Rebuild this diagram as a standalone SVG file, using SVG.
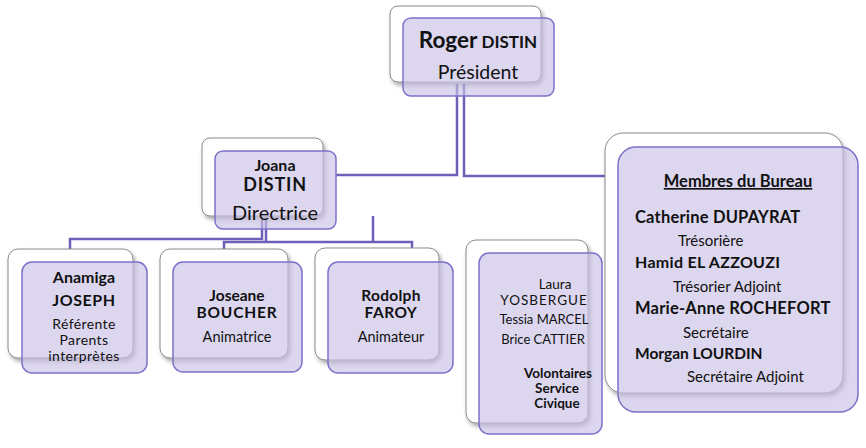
<svg xmlns="http://www.w3.org/2000/svg" width="866" height="448" viewBox="0 0 866 448">
<defs>
<filter id="sh" x="-10%" y="-10%" width="130%" height="130%">
<feDropShadow dx="2" dy="3" stdDeviation="2" flood-color="#000" flood-opacity="0.35"/>
</filter>
<style>
.back{fill:#ffffff;stroke:#8a8a8a;stroke-width:1;filter:url(#sh)}
.front{fill:#c9c2e6;fill-opacity:0.65;stroke:#7f70c8;stroke-width:1.5}
.conn{fill:none;stroke:#6f5fb8;stroke-width:2.5}
text{font-family:Lato,"Open Sans","Liberation Sans",sans-serif;fill:#111;text-anchor:middle}
.b{font-weight:bold}
.l{text-anchor:start}
</style>
</defs>
<rect width="866" height="448" fill="#ffffff"/>
<g id="connectors">
<path class="conn" d="M457,84 V175 H336"/>
<path class="conn" d="M464,84 V176 H605"/>
<path class="conn" d="M262,220 V239 H70 V249"/>
<path class="conn" d="M266,220 V242 H224 V249 M266,242 H412 V249"/>
<path class="conn" d="M373,216 V242"/>
</g>
<g id="node-roger">
<rect class="back" x="390" y="6" width="151" height="76" rx="8"/>
<rect class="front" x="403" y="18" width="151" height="78" rx="8"/>
<text x="478" y="48"><tspan class="b" font-size="22.5">Roger</tspan><tspan class="b" font-size="17"> DISTIN</tspan></text>
<text x="478" y="79" font-size="19.5">Président</text>
</g>
<g id="node-joana">
<rect class="back" x="202" y="138" width="121" height="78" rx="8"/>
<rect class="front" x="215" y="151" width="121" height="78" rx="8"/>
<text class="b" x="275" y="171" font-size="16">Joana</text>
<text class="b" x="275" y="191" font-size="18" letter-spacing="0.8">DISTIN</text>
<text x="275" y="220" font-size="20">Directrice</text>
</g>
<g id="node-anamiga">
<rect class="back" x="8" y="249" width="125" height="109" rx="10"/>
<rect class="front" x="22" y="262" width="125" height="111" rx="10"/>
<text class="b" x="84" y="283" font-size="16">Anamiga</text>
<text class="b" x="84" y="306" font-size="16" letter-spacing="0.6">JOSEPH</text>
<text x="84" y="329" font-size="14" letter-spacing="0.4">Référente</text>
<text x="84" y="345" font-size="14" letter-spacing="0.4">Parents</text>
<text x="84" y="361" font-size="14" letter-spacing="0.4">interprètes</text>
</g>
<g id="node-joseane">
<rect class="back" x="160" y="249" width="128" height="109" rx="10"/>
<rect class="front" x="173" y="262" width="129" height="110" rx="10"/>
<text class="b" x="237" y="301" font-size="15.5">Joseane</text>
<text class="b" x="237" y="318" font-size="15.5" letter-spacing="0.8">BOUCHER</text>
<text x="237" y="342" font-size="14.5">Animatrice</text>
</g>
<g id="node-rodolph">
<rect class="back" x="315" y="248" width="124" height="112" rx="10"/>
<rect class="front" x="328" y="262" width="125" height="111" rx="10"/>
<text class="b" x="391" y="301" font-size="15.5" letter-spacing="0.3">Rodolph</text>
<text class="b" x="391" y="318" font-size="15.5" letter-spacing="0.5">FAROY</text>
<text x="391" y="342" font-size="14.5">Animateur</text>
</g>
<g id="node-volontaires">
<rect class="back" x="466" y="240" width="122" height="183" rx="10"/>
<rect class="front" x="479" y="253" width="123" height="181" rx="10"/>
<text x="555" y="289" font-size="13.5">Laura</text>
<text x="544" y="305" font-size="13.5" letter-spacing="1">YOSBERGUE</text>
<text x="544" y="324" font-size="13">Tessia MARCEL</text>
<text x="543" y="344" font-size="13">Brice CATTIER</text>
<text class="b" x="558" y="378" font-size="13.5">Volontaires</text>
<text class="b" x="557" y="393" font-size="13.5">Service</text>
<text class="b" x="557" y="408" font-size="13.5">Civique</text>
</g>
<g id="node-membres">
<rect class="back" x="605" y="133" width="238" height="260" rx="18"/>
<rect class="front" x="618" y="147" width="240" height="265" rx="18"/>
<text class="b" x="738" y="187" font-size="16.5" text-decoration="underline">Membres du Bureau</text>
<text class="b l" x="635" y="223" font-size="16.5" letter-spacing="0.2">Catherine DUPAYRAT</text>
<text class="l" x="678" y="246" font-size="15">Trésorière</text>
<text class="b l" x="635" y="268" font-size="16" letter-spacing="0.3">Hamid EL AZZOUZI</text>
<text class="l" x="673" y="292" font-size="15">Trésorier Adjoint</text>
<text class="b l" x="635" y="314" font-size="16.5" letter-spacing="0.2">Marie-Anne ROCHEFORT</text>
<text class="l" x="683" y="338" font-size="15">Secrétaire</text>
<text class="b l" x="635" y="359" font-size="15.5">Morgan LOURDIN</text>
<text class="l" x="687" y="382" font-size="15">Secrétaire Adjoint</text>
</g>
</svg>
